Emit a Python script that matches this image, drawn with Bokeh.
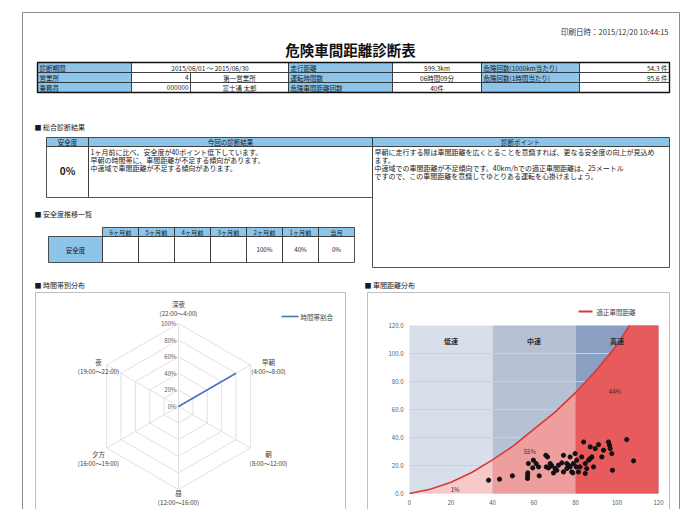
import math
from bokeh.plotting import figure
from bokeh.models import Range1d
from bokeh.core.properties import value
from bokeh.embed import file_html
from bokeh.resources import INLINE

# ---------------- data ----------------
print_time = "印刷日時：2015/12/20 10:44:15"
report_title = "危険車間距離診断表"

info_row1 = ["診断期間", "2015/06/01 ～ 2015/06/30", "", "走行距離", "599.3km", "危険回数(1000km当たり)", "54.3 件"]
info_row2 = ["営業所", "4", "第一営業所", "運転時間数", "06時間09分", "危険回数(1時間当たり)", "95.6 件"]
info_row3 = ["乗務員", "000000", "富士通 太郎", "危険車間距離回数", "40件", "", ""]

section_titles = ["■ 総合診断結果", "■ 安全度推移一覧", "■ 時間帯別分布", "■ 車間距離分布"]
diag_headers = ["安全度", "今回の診断結果", "診断ポイント"]
safety_score = "0%"
diagnosis_lines = [
    "1ヶ月前に比べ、安全度が40ポイント低下しています。",
    "早朝の時間帯に、車間距離が不足する傾向があります。",
    "中速域で車間距離が不足する傾向があります。",
]
advice_lines = [
    "早朝に走行する際は車間距離を広くとることを意識すれば、更なる安全度の向上が見込め",
    "ます。",
    "中速域での車間距離が不足傾向です。40km/hでの適正車間距離は、25メートル",
    "ですので、この車間距離を意識してゆとりある運転を心掛けましょう。",
]

trend_label = "安全度"
trend_months = ["6ヶ月前", "5ヶ月前", "4ヶ月前", "3ヶ月前", "2ヶ月前", "1ヶ月前", "当月"]
trend_values = ["", "", "", "", "100%", "40%", "0%"]

radar_categories = ["深夜", "早朝", "朝", "昼", "夕方", "夜"]
radar_periods = ["(22:00～4:00)", "(4:00～8:00)", "(8:00～12:00)", "(12:00～16:00)", "(16:00～19:00)", "(19:00～22:00)"]
radar_values = [0, 80, 0, 0, 0, 0]
radar_ticks = [0, 20, 40, 60, 80, 100]
radar_series = "時間帯割合"

speed = [38.1, 43.4, 49.6, 56.9, 56.9, 57.0, 57.3, 59.7, 59.4, 61.0, 62.2, 62.5, 65.7, 66.5, 65.9,
         67.0, 67.8, 68.6, 69.4, 70.2, 71.0, 71.8, 73.4, 74.2, 74.2, 75.8, 75.8, 76.6, 77.4, 77.4,
         78.2, 78.7, 79.0, 79.8, 80.3, 80.6, 81.4, 82.2, 83.0, 83.9, 84.7, 84.7, 85.4, 86.3, 87.1,
         87.1, 87.9, 88.7, 89.5, 91.1, 92.7, 93.5, 95.9, 96.4, 96.7, 97.5, 97.8, 104.7, 108.0]
gap = [9.5, 10.2, 12.6, 12.6, 10.7, 14.7, 21.4, 23.8, 18.3, 21.4, 19.0, 12.6, 27.3, 26.1, 19.0,
       18.3, 21.4, 19.7, 14.7, 17.8, 16.6, 20.2, 21.9, 27.3, 15.4, 17.8, 21.4, 20.2, 19.0, 26.1,
       15.4, 14.7, 21.4, 28.5, 19.0, 23.8, 15.4, 19.0, 26.1, 36.8, 21.4, 14.3, 17.8, 23.8, 33.3,
       25.0, 26.1, 19.0, 32.1, 34.9, 26.1, 30.9, 36.8, 34.4, 32.1, 28.5, 16.6, 38.5, 23.3]
curve_speed = [0, 10, 20, 30, 40, 50, 60, 70, 80, 90, 100, 106]
curve_gap = [0, 3, 8, 15, 24, 34, 46, 58, 72, 88, 106, 120]
curve_name = "適正車間距離"
zone_names = ["低速", "中速", "高速"]
zone_edges = [0, 40, 80, 120]
zone_shares = ["1%", "55%", "44%"]
x_ticks = [0, 20, 40, 60, 80, 100, 120]
y_ticks = [0, 20, 40, 60, 80, 100, 120]
y_max = 120

# ---------------- figure ----------------
W, H = 683, 509
JP = value("Noto Sans CJK JP")
p = figure(width=W, height=H, x_range=Range1d(0, W), y_range=Range1d(H, 0),
           output_backend="svg", toolbar_location=None, title=None,
           x_axis_location=None, y_axis_location=None, min_border=0)
p.grid.visible = False
p.outline_line_color = None
p.background_fill_color = "white"
p.border_fill_color = "white"

BLUE = "#8cc4ea"
DARK = "#262626"


def label(x, y, s, size=7.0, align="left", color="#1a1a1a", style="normal", **kw):
    p.text(x=[x], y=[y], text=[s], text_font=JP, text_font_size=f"{size}px",
           text_align=align, text_baseline="middle", text_color=color,
           text_font_style=style, **kw)


def box(x0, x1, y0, y1, fill="white", line=DARK, lw=0.8):
    p.quad(left=[x0], right=[x1], top=[y0], bottom=[y1], fill_color=fill,
           line_color=line, line_width=lw)


# document frame
p.multi_line(xs=[[22, 22], [22, 679], [679, 679]], ys=[[530, 12], [12, 12], [12, 530]],
             line_color="#8c8c8c", line_width=1)

label(668, 31, print_time, size=7.5, align="right", color="#333333")
label(350, 49, report_title, size=14.5, align="center", style="bold", color="#111111")

# info table
cols = [37, 131, 288, 392, 481, 579, 669]
split = 190
rows = [62, 72, 82, 92]
for r, row in enumerate([info_row1, info_row2, info_row3]):
    y0, y1 = rows[r], rows[r + 1]
    ym = (y0 + y1) / 2
    box(cols[0], cols[1], y0, y1, BLUE)
    label(cols[0] + 2, ym, row[0], size=6.5)
    if r == 0:
        box(cols[1], cols[2], y0, y1)
        label((cols[1] + cols[2]) / 2, ym, row[1], size=6.5, align="center")
    else:
        box(cols[1], split, y0, y1)
        box(split, cols[2], y0, y1)
        label(split - 2, ym, row[1], size=6.5, align="right")
        label((split + cols[2]) / 2, ym, row[2], size=6.5, align="center")
    box(cols[2], cols[3], y0, y1, BLUE)
    label(cols[2] + 2, ym, row[3], size=6.5)
    box(cols[3], cols[4], y0, y1)
    label((cols[3] + cols[4]) / 2, ym, row[4], size=6.5, align="center")
    box(cols[4], cols[5], y0, y1, BLUE)
    label(cols[4] + 2, ym, row[5], size=6.5)
    box(cols[5], cols[6], y0, y1)
    label(cols[6] - 2, ym, row[6], size=6.5, align="right")
p.quad(left=[cols[0]], right=[cols[-1]], top=[rows[0]], bottom=[rows[-1]],
       fill_color=None, line_color="#111111", line_width=1.4)

# overall diagnosis
label(34, 126, section_titles[0], size=7)
box(46, 88, 137, 146, BLUE)
box(88, 372, 137, 146, BLUE)
box(372, 669, 137, 146, BLUE)
label(67, 141.5, diag_headers[0], size=6.5, align="center")
label(230, 141.5, diag_headers[1], size=6.5, align="center")
label(520, 141.5, diag_headers[2], size=6.5, align="center")
box(46, 88, 146, 197)
box(88, 372, 146, 197)
box(372, 669, 146, 267)
label(67, 170, safety_score, size=10, align="center", style="bold")
for i, s in enumerate(diagnosis_lines):
    label(90, 151 + i * 8.3, s, size=7)
for i, s in enumerate(advice_lines):
    label(374, 151 + i * 8.3, s, size=7)

# safety trend
label(34, 213, section_titles[1], size=7)
tx = [102 + 36 * i for i in range(len(trend_months) + 1)]
box(48, 102, 236, 262, BLUE)
label(75, 249, trend_label, size=6.5, align="center")
for i, m in enumerate(trend_months):
    box(tx[i], tx[i + 1], 227, 236, BLUE)
    label((tx[i] + tx[i + 1]) / 2, 231.5, m, size=6.2, align="center")
    box(tx[i], tx[i + 1], 236, 262)
    label((tx[i] + tx[i + 1]) / 2, 249, trend_values[i], size=6.2, align="center")

# ---------------- radar chart ----------------
label(34, 284, section_titles[2], size=7)
box(35, 345, 292, 530, fill="white", line="#bfbfbf", lw=1)
cx, cy, R = 178, 406, 83
k = R / 100.0
p.extra_x_ranges["rx"] = Range1d((0 - cx) / k, (W - cx) / k)
p.extra_y_ranges["ry"] = Range1d((cy - H) / k, (cy - 0) / k)
n = len(radar_categories)
ang = [i * 2 * math.pi / n for i in range(n)]
ring_xs = [[t * math.sin(a) for a in ang + [0]] for t in radar_ticks[1:]]
ring_ys = [[t * math.cos(a) for a in ang + [0]] for t in radar_ticks[1:]]
p.multi_line(xs=ring_xs, ys=ring_ys, line_color="#d9d9d9", line_width=0.8,
             x_range_name="rx", y_range_name="ry")
tmax = radar_ticks[-1]
p.multi_line(xs=[[0, tmax * math.sin(a)] for a in ang], ys=[[0, tmax * math.cos(a)] for a in ang],
             line_color="#d9d9d9", line_width=0.8, x_range_name="rx", y_range_name="ry")
p.text(x=[0] * len(radar_ticks), y=radar_ticks, text=[f"{t}%" for t in radar_ticks],
       x_offset=-2, text_align="right", text_baseline="middle", text_font=JP,
       text_font_size="6px", text_color="#595959", x_range_name="rx", y_range_name="ry")
sx_pts = [v * math.sin(a) for v, a in zip(radar_values, ang)]
sy_pts = [v * math.cos(a) for v, a in zip(radar_values, ang)]
p.line(x=sx_pts + sx_pts[:1], y=sy_pts + sy_pts[:1], line_color="#4a72c0", line_width=1.6,
       x_range_name="rx", y_range_name="ry")
lab_pos = [(178, 303), (268, 361), (268, 453), (178, 492), (98, 453), (98, 361)]
for (lx, ly), c, t in zip(lab_pos, radar_categories, radar_periods):
    label(lx, ly, c, size=6.5, align="center", color="#404040")
    label(lx, ly + 9.5, t, size=6.2, align="center", color="#404040")
p.line(x=[281, 298], y=[316, 316], line_color="#4a72c0", line_width=1.6)
label(300, 316, radar_series, size=6.5, color="#404040")

# ---------------- gap scatter chart ----------------
label(364, 284, section_titles[3], size=7)
box(367, 669, 292, 530, fill="white", line="#bfbfbf", lw=1)
X0, X1, Y0, Y1 = 409.0, 658.0, 493.0, 325.0
KX = (X1 - X0) / 120.0
KY = (Y0 - Y1) / 120.0
p.extra_x_ranges["sx"] = Range1d((0 - X0) / KX, (W - X0) / KX)
p.extra_y_ranges["sy"] = Range1d((Y0 - H) / KY, (Y0 - 0) / KY)
S = dict(x_range_name="sx", y_range_name="sy")

zone_blue = ["#d9dfea", "#b6c1d6", "#8b9fc2"]
zone_red = ["#f6caca", "#ef9e9e", "#e85b5c"]
p.quad(left=zone_edges[:-1], right=zone_edges[1:], bottom=[0] * 3, top=[y_max] * 3,
       fill_color=zone_blue, line_color=None, **S)
p.multi_line(xs=[[zone_edges[0], zone_edges[-1]] for _ in y_ticks[1:-1]],
             ys=[[t, t] for t in y_ticks[1:-1]], line_color="#c9d0de", line_width=1, **S)
for zi in range(3):
    a, b = zone_edges[zi], zone_edges[zi + 1]
    px = [x for x in curve_speed if a <= x <= b]
    py = [min(y, y_max) for x, y in zip(curve_speed, curve_gap) if a <= x <= b]
    if px[-1] < b:
        px = px + [b]
        py = py + [y_max]
    p.patch(x=px + [b, a], y=py + [0, 0], fill_color=zone_red[zi], line_color=None, **S)
p.line(x=curve_speed, y=curve_gap, line_color="#d8383a", line_width=1.6, **S)
p.scatter(x=speed, y=gap, size=4.2, fill_color="#111111", line_color="#111111", **S)
zc = [(zone_edges[i] + zone_edges[i + 1]) / 2 for i in range(3)]
p.text(x=zc, y=[109] * 3, text=zone_names, text_align="center", text_baseline="middle",
       text_font=JP, text_font_size="7px", text_font_style="bold", text_color="#2b2b2b", **S)
p.text(x=[22, 58, 99], y=[3, 30, 73], text=zone_shares, text_align="center",
       text_baseline="middle", text_font=JP, text_font_size="6px", text_color="#2b2b2b", **S)
p.text(x=[0] * len(y_ticks), y=y_ticks, text=[f"{t:.1f}" for t in y_ticks], x_offset=-6,
       text_align="right", text_baseline="middle", text_font=JP, text_font_size="6px",
       text_color="#595959", **S)
p.text(x=x_ticks, y=[0] * len(x_ticks), text=[str(t) for t in x_ticks], y_offset=9,
       text_align="center", text_baseline="middle", text_font=JP, text_font_size="6px",
       text_color="#595959", **S)
p.line(x=[578, 592], y=[311, 311], line_color="#d8383a", line_width=2)
label(596, 311, curve_name, size=6.5, color="#404040")

open("out.html", "w").write(file_html(p, INLINE))
